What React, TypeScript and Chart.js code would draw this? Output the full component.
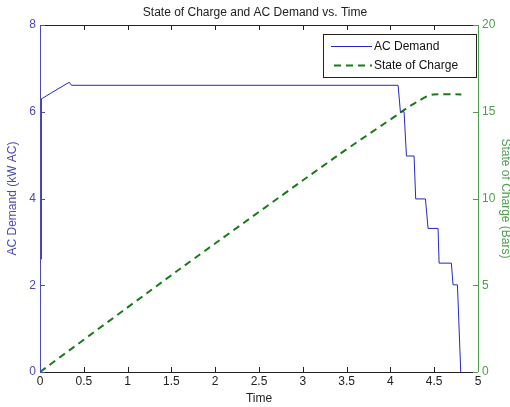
import React, { useEffect, useRef } from 'react';
import { Chart, registerables } from 'chart.js';

Chart.register(...registerables);

// ---- data ----
const acTime = [0.013, 0.016, 0.028, 0.133, 0.334, 0.36, 4.088, 4.114, 4.156, 4.183, 4.27, 4.289, 4.4, 4.43, 4.544, 4.556, 4.696, 4.715, 4.765, 4.772, 4.803];
const acDemand = [2.6, 6.3, 6.31, 6.44, 6.68, 6.61, 6.61, 6.0, 6.0, 4.98, 4.98, 3.99, 3.99, 3.31, 3.31, 2.51, 2.51, 2.01, 2.01, 1.66, 0];

const socTime = [0, 1.6, 3.39, 4.1, 4.2, 4.33, 4.42, 4.49, 4.81];
const socBars = [0, 5.95, 12.45, 14.9, 15.25, 15.65, 15.9, 16.0, 16.0];

const xTicks = [0, 0.5, 1, 1.5, 2, 2.5, 3, 3.5, 4, 4.5, 5];
const leftTicks = [0, 2, 4, 6, 8];
const rightTicks = [0, 5, 10, 15, 20];

const titleText = 'State of Charge and AC Demand vs. Time';
const xTitle = 'Time';
const leftTitle = 'AC Demand (kW AC)';
const rightTitle = 'State of Charge (Bars)';
const seriesLabels = ['AC Demand', 'State of Charge'];

const BLUE_LINE = '#2626c8';
const BLUE_AXIS = '#4a4ab4';
const GREEN_LINE = '#197a19';
const GREEN_AXIS = '#4e9e4e';
const FONT = 'Arial, "Liberation Sans", sans-serif';

const framePlugin = {
  id: 'matlabFrame',
  afterDatasetsDraw(chart: any) {
    const { ctx, chartArea } = chart;
    const { left, right, top, bottom } = chartArea;
    const xs = chart.scales.x;
    const yl = chart.scales.yL;
    const yr = chart.scales.yR;
    const tl = 5;
    ctx.save();
    ctx.lineWidth = 1;
    // top & bottom black
    ctx.strokeStyle = '#222222';
    ctx.beginPath();
    ctx.moveTo(left, Math.round(top) + 0.5);
    ctx.lineTo(right, Math.round(top) + 0.5);
    ctx.moveTo(left, Math.round(bottom) + 0.5);
    ctx.lineTo(right, Math.round(bottom) + 0.5);
    xTicks.forEach((v) => {
      const px = Math.round(xs.getPixelForValue(v)) + 0.5;
      if (v === xTicks[0] || v === xTicks[xTicks.length - 1]) return;
      ctx.moveTo(px, bottom);
      ctx.lineTo(px, bottom - tl);
      ctx.moveTo(px, top);
      ctx.lineTo(px, top + tl);
    });
    ctx.stroke();
    // left blue axis
    ctx.strokeStyle = BLUE_AXIS;
    ctx.beginPath();
    ctx.moveTo(Math.round(left) + 0.5, top);
    ctx.lineTo(Math.round(left) + 0.5, bottom);
    leftTicks.forEach((v) => {
      const py = Math.round(yl.getPixelForValue(v)) + 0.5;
      ctx.moveTo(left, py);
      ctx.lineTo(left + tl, py);
    });
    ctx.stroke();
    // right green axis
    ctx.strokeStyle = GREEN_AXIS;
    ctx.beginPath();
    ctx.moveTo(Math.round(right) + 0.5, top);
    ctx.lineTo(Math.round(right) + 0.5, bottom);
    rightTicks.forEach((v) => {
      const py = Math.round(yr.getPixelForValue(v)) + 0.5;
      ctx.moveTo(right, py);
      ctx.lineTo(right - tl, py);
    });
    ctx.stroke();

    // legend box
    const bx = 323, by = 34, bw = 153, bh = 43;
    ctx.fillStyle = '#ffffff';
    ctx.fillRect(bx, by, bw, bh);
    ctx.strokeStyle = '#222222';
    ctx.strokeRect(bx + 0.5, by + 0.5, bw, bh);
    ctx.font = '12px ' + FONT;
    ctx.textBaseline = 'middle';
    ctx.textAlign = 'left';
    chart.data.datasets.forEach((ds: any, i: number) => {
      const ly = by + 12 + i * 19;
      ctx.strokeStyle = ds.borderColor;
      ctx.lineWidth = ds.borderWidth;
      ctx.setLineDash(ds.borderDash || []);
      ctx.beginPath();
      ctx.moveTo(bx + (i === 0 ? 8 : 11), ly + 0.5);
      ctx.lineTo(bx + 49, ly + 0.5);
      ctx.stroke();
      ctx.setLineDash([]);
      ctx.fillStyle = '#111111';
      ctx.fillText(ds.label, bx + 51, ly + 1);
    });
    ctx.restore();
  },
};

export default function App() {
  const ref = useRef<HTMLCanvasElement | null>(null);
  useEffect(() => {
    if (!ref.current) return;
    const chart = new Chart(ref.current, {
      type: 'line',
      data: {
        datasets: [
          {
            label: seriesLabels[0],
            data: acTime.map((t, i) => ({ x: t, y: acDemand[i] })),
            yAxisID: 'yL',
            borderColor: BLUE_LINE,
            borderWidth: 1,
            pointRadius: 0,
            tension: 0,
            fill: false,
          },
          {
            label: seriesLabels[1],
            data: socTime.map((t, i) => ({ x: t, y: socBars[i] })),
            yAxisID: 'yR',
            borderColor: GREEN_LINE,
            borderWidth: 2,
            borderDash: [7, 5],
            pointRadius: 0,
            tension: 0.2,
            fill: false,
          },
        ],
      },
      plugins: [framePlugin],
      options: {
        animation: false,
        responsive: false,
        maintainAspectRatio: false,
        layout: { padding: 0 },
        plugins: {
          legend: { display: false },
          tooltip: { enabled: false },
          title: {
            display: true,
            text: titleText,
            color: '#222222',
            font: { size: 12, family: FONT, weight: 'normal' },
            padding: { top: 5, bottom: 5.6 },
          },
        },
        scales: {
          x: {
            type: 'linear',
            min: 0,
            max: 5,
            afterBuildTicks: (s: any) => { s.ticks = xTicks.map((v) => ({ value: v })); },
            afterFit: (s: any) => { s.height = 35; },
            grid: { display: false, drawTicks: false },
            border: { display: false },
            ticks: {
              autoSkip: false,
              maxRotation: 0,
              padding: 2,
              color: '#222222',
              font: { size: 12, family: FONT },
              callback: (v: any) => String(v),
            },
            title: {
              display: true,
              text: xTitle,
              color: '#222222',
              font: { size: 12, family: FONT },
              padding: { top: 0, bottom: 1 },
            },
          },
          yL: {
            type: 'linear',
            position: 'left',
            min: 0,
            max: 8,
            afterBuildTicks: (s: any) => { s.ticks = leftTicks.map((v) => ({ value: v })); },
            afterFit: (s: any) => { s.width = 40; },
            grid: { display: false, drawTicks: false },
            border: { display: false },
            ticks: {
              padding: 4,
              color: BLUE_AXIS,
              font: { size: 12, family: FONT },
            },
            title: {
              display: true,
              text: leftTitle,
              color: BLUE_AXIS,
              font: { size: 12, family: FONT },
              padding: { top: 5, bottom: 0 },
            },
          },
          yR: {
            type: 'linear',
            position: 'right',
            min: 0,
            max: 20,
            afterBuildTicks: (s: any) => { s.ticks = rightTicks.map((v) => ({ value: v })); },
            afterFit: (s: any) => { s.width = 32; },
            grid: { display: false, drawTicks: false },
            border: { display: false },
            ticks: {
              padding: 4,
              color: GREEN_AXIS,
              font: { size: 12, family: FONT },
            },
            title: {
              display: true,
              text: rightTitle,
              color: GREEN_AXIS,
              font: { size: 12, family: FONT },
              padding: { top: -3, bottom: 0 },
            },
          },
        },
      } as any,
    });
    return () => chart.destroy();
  }, []);
  return (
    <div style={{ position: 'fixed', left: 0, top: 0, width: 510, height: 407, background: '#ffffff' }}>
      <canvas ref={ref} width={510} height={407} style={{ width: 510, height: 407 }} />
    </div>
  );
}
